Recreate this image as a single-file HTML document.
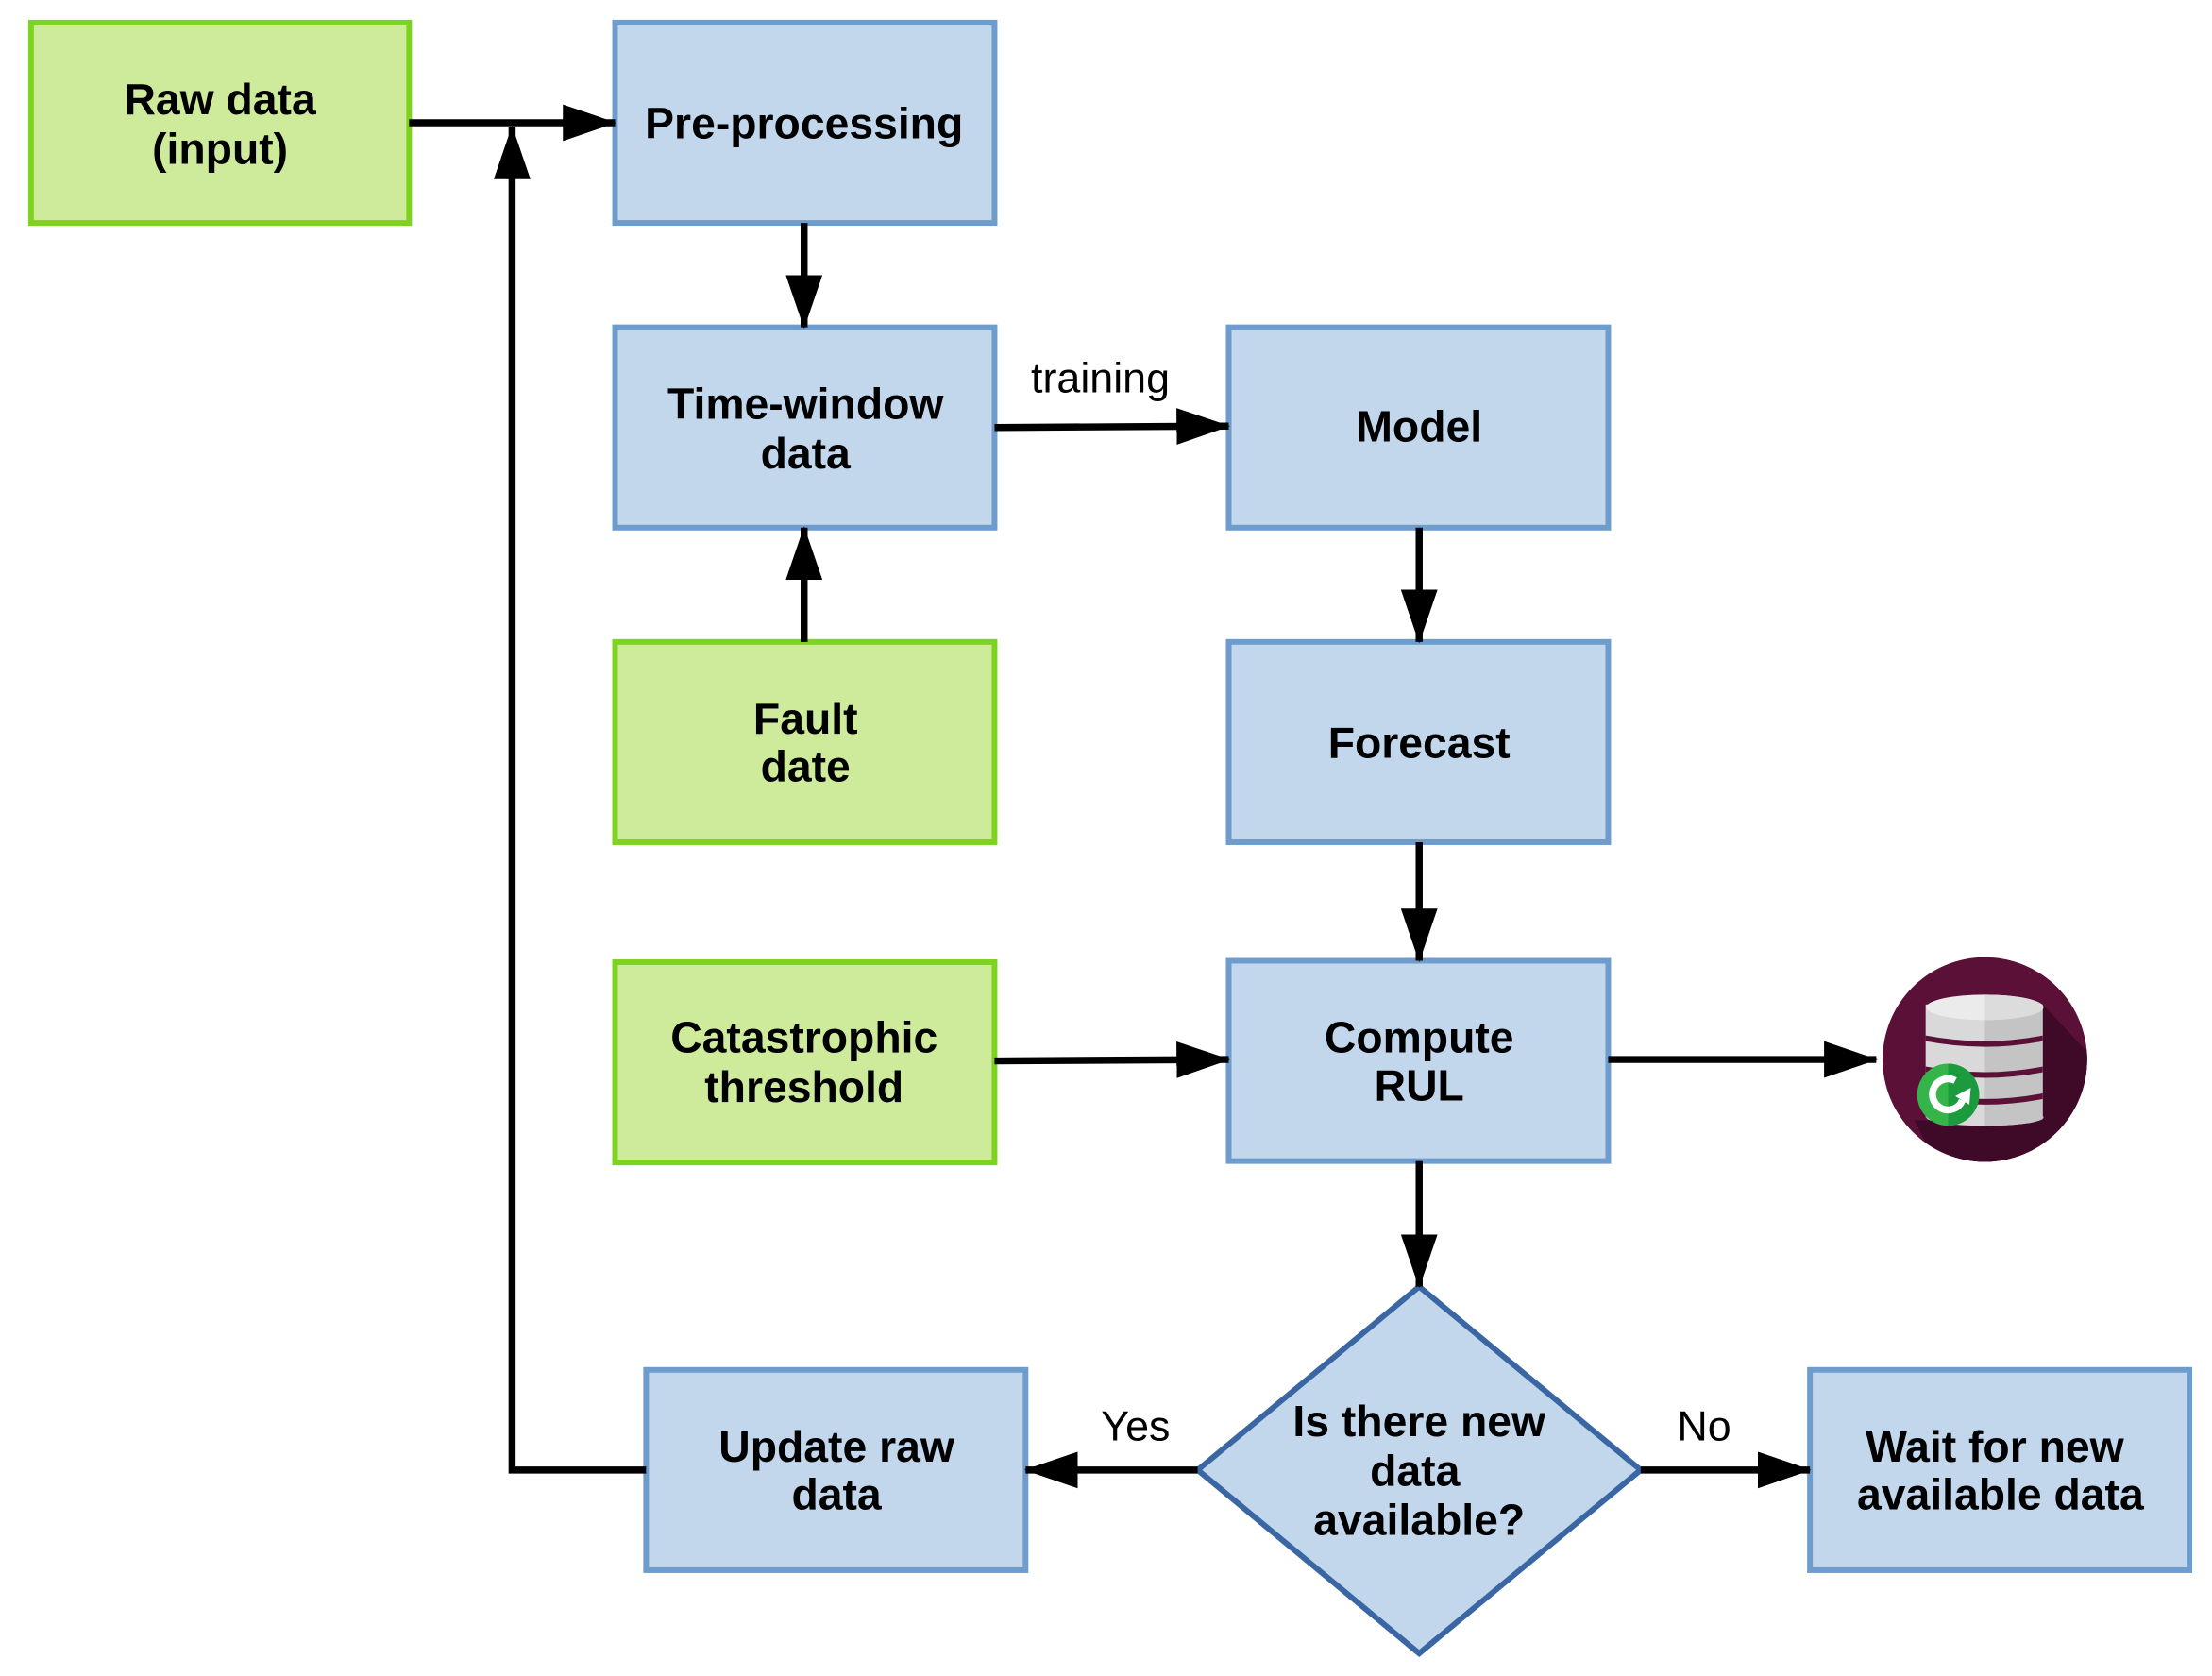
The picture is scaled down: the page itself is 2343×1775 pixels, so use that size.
<!DOCTYPE html>
<html><head><style>html,body{margin:0;padding:0;background:#fff}svg{display:block}</style></head><body>
<svg width="2343" height="1775" viewBox="0 0 1568 1188" preserveAspectRatio="none" xmlns="http://www.w3.org/2000/svg" font-family="Liberation Sans, sans-serif">
<defs>
<marker id="b" markerWidth="38" markerHeight="26" refX="37" refY="13" orient="auto" markerUnits="userSpaceOnUse"><path d="M0,0 L38,13 L0,26 z" fill="#000"/></marker>
<clipPath id="c"><circle cx="1407" cy="751" r="72.5"/></clipPath>
</defs>
<g stroke-width="4">
<rect x="22" y="16" width="268" height="142" fill="#cdeb9b" stroke="#7ed321"/>
<rect x="436" y="16" width="269" height="142" fill="#c2d6ec" stroke="#6d9ccd"/>
<rect x="436" y="232" width="269" height="142" fill="#c2d6ec" stroke="#6d9ccd"/>
<rect x="871" y="232" width="269" height="142" fill="#c2d6ec" stroke="#6d9ccd"/>
<rect x="436" y="455" width="269" height="142" fill="#cdeb9b" stroke="#7ed321"/>
<rect x="871" y="455" width="269" height="142" fill="#c2d6ec" stroke="#6d9ccd"/>
<rect x="436" y="682" width="269" height="142" fill="#cdeb9b" stroke="#7ed321"/>
<rect x="871" y="681" width="269" height="142" fill="#c2d6ec" stroke="#6d9ccd"/>
<rect x="458" y="971" width="269" height="142" fill="#c2d6ec" stroke="#6d9ccd"/>
<rect x="1283" y="971" width="269" height="142" fill="#c2d6ec" stroke="#6d9ccd"/>
<polygon points="1006,912 1163,1042 1006,1172 849,1042" fill="#c2d6ec" stroke="#3a67a3"/>
</g>
<g stroke="#000" stroke-width="5" fill="none">
<line x1="290" y1="87" x2="436" y2="87" marker-end="url(#b)"/>
<polyline points="458,1042 363,1042 363,90" marker-end="url(#b)"/>
<line x1="570" y1="158" x2="570" y2="232" marker-end="url(#b)"/>
<line x1="570" y1="455" x2="570" y2="374" marker-end="url(#b)"/>
<line x1="705" y1="303" x2="871" y2="302" marker-end="url(#b)"/>
<line x1="1006" y1="374" x2="1006" y2="455" marker-end="url(#b)"/>
<line x1="1006" y1="597" x2="1006" y2="681" marker-end="url(#b)"/>
<line x1="705" y1="752" x2="871" y2="751" marker-end="url(#b)"/>
<line x1="1140" y1="751" x2="1330" y2="751" marker-end="url(#b)"/>
<line x1="1006" y1="823" x2="1006" y2="912" marker-end="url(#b)"/>
<line x1="849" y1="1042" x2="727" y2="1042" marker-end="url(#b)"/>
<line x1="1163" y1="1042" x2="1283" y2="1042" marker-end="url(#b)"/>
</g>
<g transform="translate(7,4)">
<path clip-path="url(#c)" transform="translate(-7,-4)" d="M1449,712 L1500,765 L1435,835 L1375,835 L1355,794 L1449,794 Z" fill="#3e0a28"/>
</g>
<circle cx="1407" cy="751" r="72.5" fill="#5b1038"/>
<path clip-path="url(#c)" d="M1448,712 L1497,764 L1437,834 L1377,834 L1357,794 L1448,794 Z" fill="#3e0a28"/>
<g transform="translate(7,4)">
<rect x="1358" y="708" width="83" height="80" fill="#d9d9d9"/>
<rect x="1400" y="708" width="41" height="80" fill="#c4c4c4"/>
<ellipse cx="1400" cy="788" rx="41.5" ry="6" fill="#d9d9d9"/>
<path d="M1400,782 A41.5,6 0 0 1 1441.5,788 L1441.5,788 A41.5,6 0 0 1 1400,794 Z" fill="#c4c4c4"/>
<path d="M1358,730 Q1400,738 1441,730 L1441,734 Q1400,742 1358,734 Z" fill="#5b1038"/>
<path d="M1358,752 Q1400,760 1441,752 L1441,756 Q1400,764 1358,756 Z" fill="#5b1038"/>
<path d="M1358,771 Q1400,779 1441,771 L1441,775 Q1400,783 1358,775 Z" fill="#5b1038"/>
<ellipse cx="1400" cy="710" rx="41.5" ry="9" fill="#ebebeb"/>
<path d="M1400,701 A41.5,9 0 0 1 1400,719 Z" fill="#dcdcdc"/>
<circle cx="1374" cy="772" r="22" fill="#35b44a"/>
<path d="M1374,750 A22,22 0 0 1 1374,794 Z" fill="#1c9a3e"/>
<path d="M1379,762 A11,11 0 1 0 1384,776" stroke="#fff" stroke-width="5" fill="none"/>
<path d="M1379,773 L1390,767 L1389,779 Z" fill="#fff"/>
</g>
<g font-weight="bold" font-size="31" text-anchor="middle" fill="#000">
<text x="156" y="81">Raw data</text><text x="156" y="116">(input)</text>
<text x="570" y="98">Pre-processing</text>
<text x="571" y="297">Time-window</text><text x="571" y="332">data</text>
<text x="1006" y="313">Model</text>
<text x="571" y="520">Fault</text><text x="571" y="554">date</text>
<text x="1006" y="537">Forecast</text>
<text x="570" y="746">Catastrophic</text><text x="570" y="781">threshold</text>
<text x="1006" y="746">Compute</text><text x="1006" y="780">RUL</text>
<text x="593" y="1036">Update raw</text><text x="593" y="1070">data</text>
<text x="1414" y="1036">Wait for new</text><text x="1418" y="1070">available data</text>
<text x="1006" y="1018">Is there new</text><text x="1003" y="1053">data</text><text x="1006" y="1088">available?</text>
</g>
<g font-size="30" text-anchor="middle" fill="#000">
<text x="780" y="278">training</text>
<text x="805" y="1021">Yes</text>
<text x="1208" y="1021">No</text>
</g>
</svg>
</body></html>
